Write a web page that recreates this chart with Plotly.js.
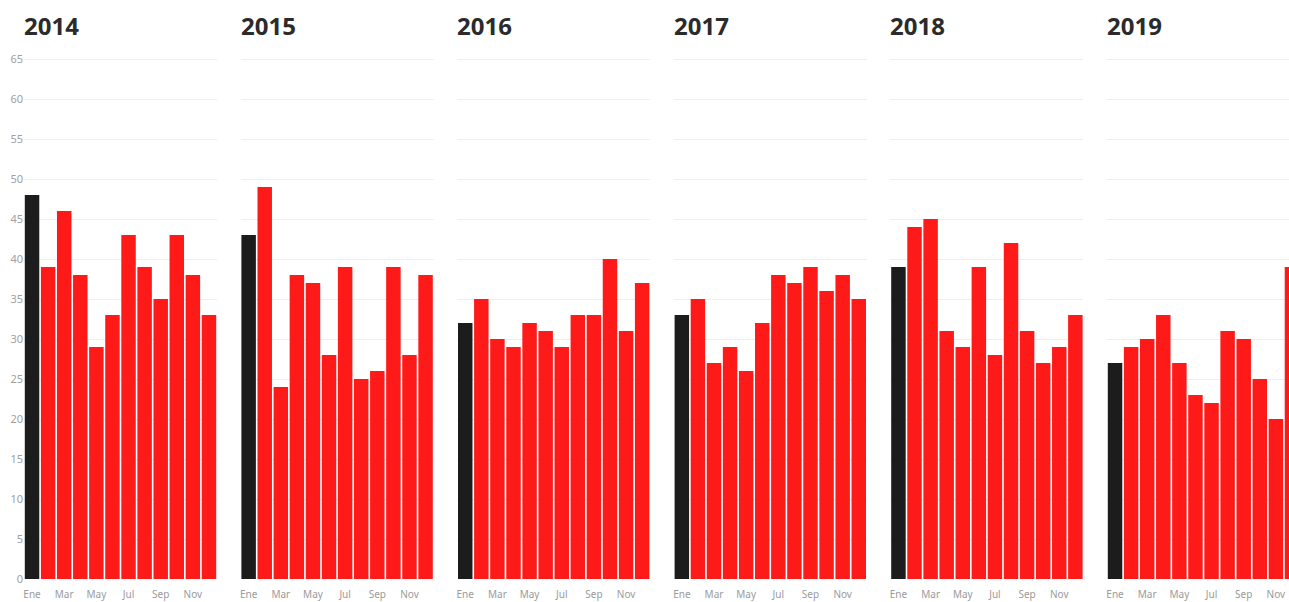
<!DOCTYPE html>
<html>
<head>
<meta charset="utf-8">
<script src="https://cdn.plot.ly/plotly-3.0.1.min.js"></script>
<style>
html,body{margin:0;padding:0;overflow:hidden;background:#fff;}
#chart{width:1320px;height:602px;}
</style>
</head>
<body>
<div id="chart"></div>
<script>
const months = ["Ene","Feb","Mar","Abr","May","Jun","Jul","Ago","Sep","Oct","Nov","Dic"];
const tickMonths = ["Ene","Mar","May","Jul","Sep","Nov"];
const years = ["2014","2015","2016","2017","2018","2019"];
const yTicks = [0,5,10,15,20,25,30,35,40,45,50,55,60,65];
const v2014 = [48,39,46,38,29,33,43,39,35,43,38,33];
const v2015 = [43,49,24,38,37,28,39,25,26,39,28,38];
const v2016 = [32,35,30,29,32,31,29,33,33,40,31,37];
const v2017 = [33,35,27,29,26,32,38,37,39,36,38,35];
const v2018 = [39,44,45,31,29,39,28,42,31,27,29,33];
const v2019 = [27,29,30,33,27,23,22,31,30,25,20,39];
const series = [v2014,v2015,v2016,v2017,v2018,v2019];

const W = 1320, H = 602;
const panelLeft0 = 24, panelStep = 216.6, panelW = 193;
const yMaxR = 65.3;
const yBot = 579, pxPerUnit = 8;
const yTop = yBot - yMaxR * pxPerUnit;

const traces = [];
const layout = {
  width: W, height: H,
  margin: {l:0, r:0, t:0, b:0},
  paper_bgcolor: "#fff", plot_bgcolor: "#fff",
  showlegend: false,
  bargap: 0.1,
  font: {family: "Noto Sans, Open Sans, sans-serif", color: "#999"},
  annotations: []
};

series.forEach((vals, i) => {
  const n = i + 1;
  const xa = n === 1 ? "x" : "x" + n;
  const ya = n === 1 ? "y" : "y" + n;
  const colors = vals.map((_, k) => k === 0 ? "#1c1c1c" : "#ff1a1a");
  traces.push({
    type: "bar", x: months, y: vals, xaxis: xa, yaxis: ya,
    marker: {color: colors, line: {width: 0}},
    hoverinfo: "x+y"
  });
  const x0 = panelLeft0 + i * panelStep;
  const x1 = x0 + panelW;
  layout["xaxis" + (n === 1 ? "" : n)] = {
    domain: [x0 / W, x1 / W],
    anchor: ya,
    type: "category",
    tickmode: "array", tickvals: tickMonths, ticktext: tickMonths,
    tickfont: {size: 10, color: "#9a9a9a"},
    ticks: "outside", ticklen: 6, tickcolor: "rgba(0,0,0,0)",
    showgrid: false, zeroline: false, showline: false,
    fixedrange: true, automargin: false
  };
  layout["yaxis" + (n === 1 ? "" : n)] = {
    domain: [(H - yBot) / H, (H - yTop) / H],
    anchor: xa,
    range: [0, yMaxR],
    tickmode: "array", tickvals: yTicks,
    showticklabels: n === 1,
    tickfont: {size: 11, color: "#a0a0a0"},
    showgrid: true, gridcolor: "#eeeeee", gridwidth: 1,
    zeroline: false, showline: false, ticks: "",
    fixedrange: true, automargin: false
  };
  layout.annotations.push({
    text: "<b>" + years[i] + "</b>",
    xref: "paper", yref: "paper",
    x: (x0 - 2) / W, y: (H - 26) / H,
    xanchor: "left", yanchor: "middle",
    showarrow: false,
    font: {size: 24, color: "#2b2b2b", family: "Noto Sans, Open Sans, sans-serif"}
  });
});

Plotly.newPlot("chart", traces, layout, {displayModeBar: false, staticPlot: true});
</script>
</body>
</html>
